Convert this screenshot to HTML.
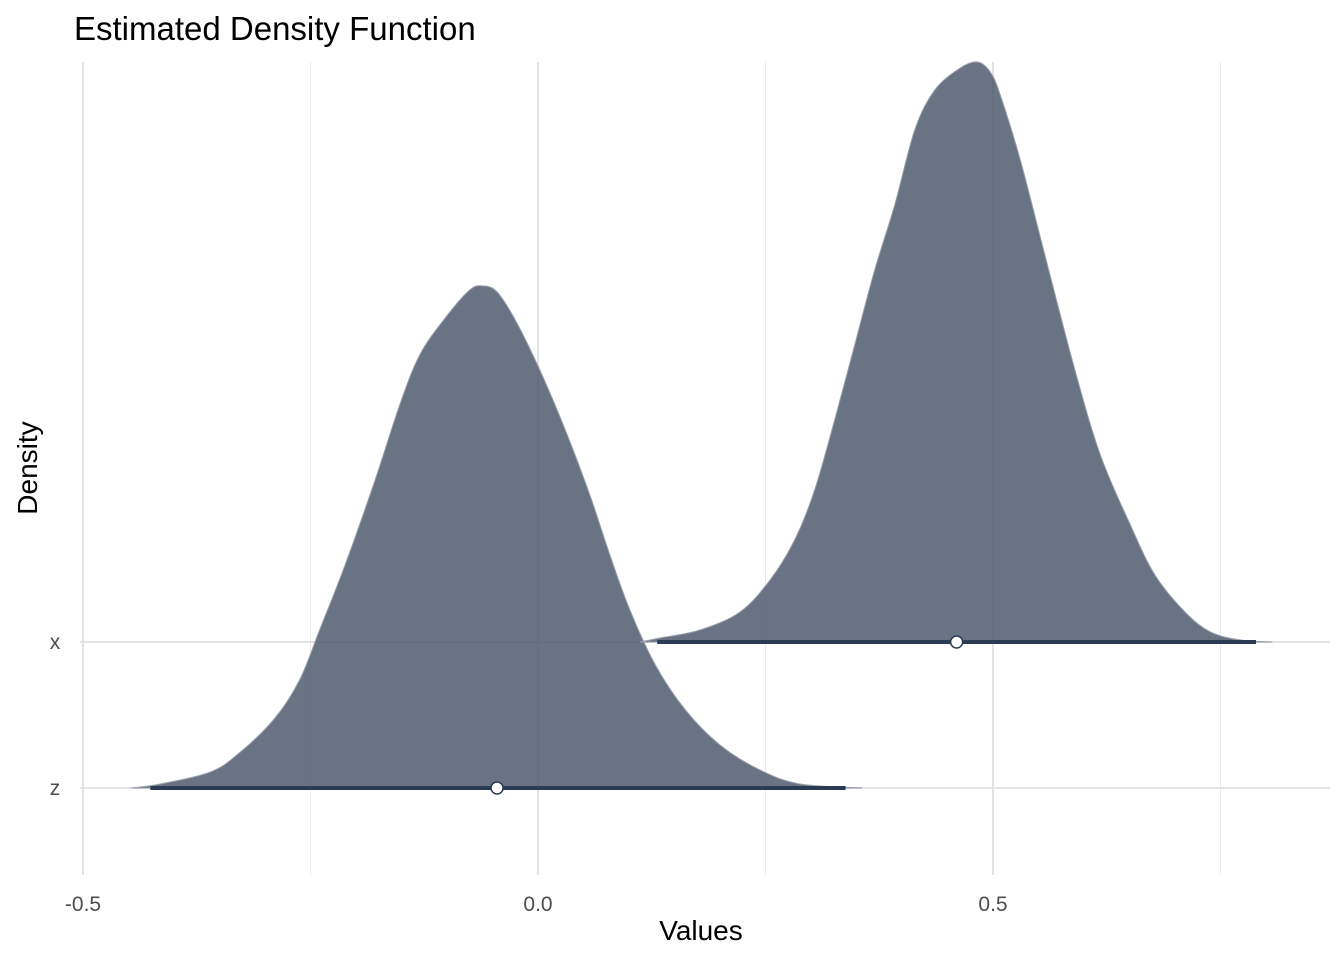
<!DOCTYPE html>
<html><head><meta charset="utf-8"><style>
body{margin:0;background:#fff}
svg text{font-family:"Liberation Sans",sans-serif}
</style></head><body>
<svg id="chart" width="1344" height="960" xmlns="http://www.w3.org/2000/svg">
<text x="74" y="40" font-size="33" fill="#000">Estimated Density Function</text>
<text x="701" y="940" font-size="28" text-anchor="middle">Values</text>
<text transform="translate(37,468) rotate(-90)" font-size="28" text-anchor="middle">Density</text>
<g id="grid"></g><g id="marks"></g><g id="labels"></g>
</svg>
<script>
const categories=["x","z"];
const xTicks=[-0.5,0,0.5];
const xTickLabels=["-0.5","0.0","0.5"];
const minorTicks=[-0.25,0.25,0.75];
const zVals=[-0.447,-0.415,-0.36,-0.327,-0.289,-0.262,-0.240,-0.212,-0.179,-0.152,-0.130,-0.102,-0.075,-0.060,-0.045,-0.025,0.002,0.030,0.057,0.079,0.101,0.129,0.162,0.200,0.244,0.288,0.356];
const zDens=[0,0.04,0.16,0.36,0.70,1.08,1.58,2.23,3.08,3.83,4.33,4.70,4.98,5.02,4.96,4.68,4.18,3.58,2.93,2.33,1.78,1.23,0.78,0.43,0.18,0.04,0];
const xVals=[0.112,0.134,0.178,0.222,0.255,0.282,0.304,0.326,0.348,0.370,0.392,0.414,0.436,0.464,0.483,0.497,0.508,0.530,0.557,0.590,0.618,0.651,0.678,0.711,0.739,0.772,0.807];
const xDens=[0,0.04,0.12,0.30,0.62,1.02,1.52,2.22,2.97,3.72,4.37,5.12,5.52,5.74,5.80,5.70,5.47,4.82,3.87,2.72,1.87,1.17,0.67,0.30,0.10,0.02,0];
const zInterval=[-0.426,0.338], zPoint=-0.045;
const xInterval=[0.131,0.789], xPoint=0.460;
const sx=v=>538+v*910;
const baseY={x:642,z:788};
const dy=100;
const NS="http://www.w3.org/2000/svg";
function el(t,a,p){const e=document.createElementNS(NS,t);for(const k in a)e.setAttribute(k,a[k]);p.appendChild(e);return e;}
const grid=document.getElementById('grid'),marks=document.getElementById('marks'),labels=document.getElementById('labels');
minorTicks.forEach(v=>{const l=el('line',{x1:sx(v),x2:sx(v),y1:62,y2:875,stroke:'#ebebeb','stroke-width':1},grid);

});
xTicks.forEach((v,i)=>{const l=el('line',{x1:sx(v),x2:sx(v),y1:62,y2:875,stroke:'#e3e3e3','stroke-width':2},grid);


const t=el('text',{x:sx(v),y:911,'font-size':21,fill:'#4d4d4d','text-anchor':'middle'},labels);t.textContent=xTickLabels[i];

});
categories.forEach(c=>{const l=el('line',{x1:80,x2:1330,y1:baseY[c],y2:baseY[c],stroke:'#e3e3e3','stroke-width':2},grid);


const t=el('text',{x:55,y:baseY[c]+7,'font-size':21,fill:'#4d4d4d','text-anchor':'middle'},labels);t.textContent=c;

});
function smoothPath(pts){
 let d='M'+pts[0][0]+','+pts[0][1];
 for(let i=0;i<pts.length-1;i++){
  const p0=pts[Math.max(0,i-1)],p1=pts[i],p2=pts[i+1],p3=pts[Math.min(pts.length-1,i+2)];
  const c1=[p1[0]+(p2[0]-p0[0])/6,p1[1]+(p2[1]-p0[1])/6];
  const c2=[p2[0]-(p3[0]-p1[0])/6,p2[1]-(p3[1]-p1[1])/6];
  d+=' C'+c1[0]+','+c1[1]+' '+c2[0]+','+c2[1]+' '+p2[0]+','+p2[1];
 }
 return d;
}
function drawDensity(c,vals,dens,interval,pt){
 const b=baseY[c];
 const pts=vals.map((v,i)=>[sx(v),b-dens[i]*dy]);
 const d=smoothPath(pts)+' Z';
 const p=el('path',{d:d,fill:'#4f5a6d','fill-opacity':0.85,stroke:'#9aa0aa','stroke-width':1},marks);
 
 
 const l=el('line',{x1:sx(interval[0]),x2:sx(interval[1]),y1:b,y2:b,stroke:'#2b3a55','stroke-width':4},marks);
 
 
 const ci=el('circle',{cx:sx(pt),cy:b,r:6,fill:'#fff',stroke:'#2b3a55','stroke-width':1.5},marks);
 
 
}
drawDensity('z',zVals,zDens,zInterval,zPoint);
drawDensity('x',xVals,xDens,xInterval,xPoint);
</script>
</body></html>
